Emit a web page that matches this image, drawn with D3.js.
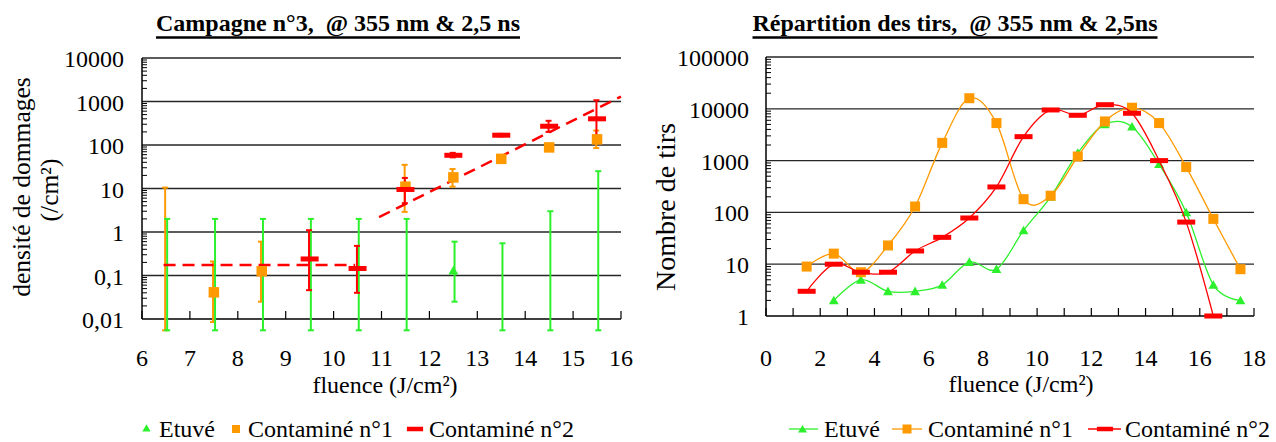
<!DOCTYPE html>
<html><head><meta charset="utf-8">
<script src="https://cdn.jsdelivr.net/npm/d3@7"></script>
<style>
html,body{margin:0;padding:0;background:#fff;}
svg text{font-family:"Liberation Serif","Times New Roman",serif;fill:#000;}
</style></head><body>
<svg id="c" width="1276" height="442"></svg>
<script>
// ---------- LEFT CHART DATA (Campagne n°3) ----------
const titleLeft = "Campagne n°3,  @ 355 nm & 2,5 ns";
const fluenceL = [6.5, 7.5, 8.5, 9.5, 10.5, 11.5, 12.5, 13.5, 14.5, 15.5];
const etuveL    = [null, null, null, null, null, null, 0.13, null, null, null];
const etuveLHi  = [2, 2, 2, 2, 2, 2, 0.6, 0.55, 3, 25];
const etuveLLo  = [0.0055, 0.0055, 0.0055, 0.0055, 0.0055, 0.0055, 0.025, 0.0055, 0.0055, 0.0055];
const cont1L    = [null, 0.041, 0.125, null, null, 11, 18, 48, 88, 135];
const cont1LHi  = [10.5, 0.21, 0.6, null, null, 35, 28, null, null, 215];
const cont1LLo  = [0.0055, 0.0085, 0.025, null, null, 2.9, 11, null, null, 85];
const cont2L    = [null, null, null, 0.24, 0.145, 9.5, 58, 168, 270, 400];
const cont2LHi  = [null, null, null, 1.1, 0.48, 17.5, 66, 180, 360, 1070];
const cont2LLo  = [null, null, null, 0.046, 0.04, 4.6, 52, 158, 200, 150];
const trendFlatX = [6.45, 10.45];
const trendFlatY = [0.175, 0.175];
const trendSlopeX = [10.95, 16];
const trendSlopeY = [2.2, 1300];
const yTicksL = [0.01, 0.1, 1, 10, 100, 1000, 10000];
const yTickLabelsL = ["0,01", "0,1", "1", "10", "100", "1000", "10000"];
const xTicksL = [6, 7, 8, 9, 10, 11, 12, 13, 14, 15, 16];

// ---------- RIGHT CHART DATA (Répartition des tirs) ----------
const titleRight = "Répartition des tirs,  @ 355 nm & 2,5ns";
const fluenceR = [1.5, 2.5, 3.5, 4.5, 5.5, 6.5, 7.5, 8.5, 9.5, 10.5, 11.5, 12.5, 13.5, 14.5, 15.5, 16.5, 17.5];
const etuveR = [null, 2, 5, 3, 3, 4, 11, 8, 45, 200, 1400, 5000, 4500, 850, 100, 4, 2];
const cont1R = [9, 16, 7, 23, 130, 2200, 16000, 5300, 180, 210, 1200, 5700, 10500, 5300, 750, 75, 8];
const cont2R = [3, 10, 7, 7, 18, 33, 78, 310, 2900, 9500, 7500, 12000, 8200, 1000, 65, 1, null];
const yTicksR = [1, 10, 100, 1000, 10000, 100000];
const yTickLabelsR = ["1", "10", "100", "1000", "10000", "100000"];
const xTicksR = [0, 2, 4, 6, 8, 10, 12, 14, 16, 18];

const seriesNames = ["Etuvé", "Contaminé n°1", "Contaminé n°2"];
const xAxisTitle = "fluence (J/cm²)";

const GREEN = "#2cf02c", ORANGE = "#ff9900", RED = "#ff0000";
const FS = 24;

const svg = d3.select("#c");

function title(txt, cx) {
  const t = svg.append("text").attr("x", cx).attr("y", 31)
    .attr("text-anchor", "middle").style("white-space", "pre")
    .attr("font-weight", "bold").attr("font-size", FS).text(txt);
  const b = t.node().getBBox();
  svg.append("line").attr("x1", b.x).attr("x2", b.x + b.width)
    .attr("y1", 37.5).attr("y2", 37.5).attr("stroke", "#000").attr("stroke-width", 2.4);
}

function logFrame(x, y, decades) {
  const [x0, x1] = x.range();
  const [yb, yt] = y.range();
  const g = svg.append("g");
  decades.slice(1).forEach(d => {
    g.append("line").attr("x1", x0).attr("x2", x1).attr("y1", y(d)).attr("y2", y(d))
      .attr("stroke", "#262626").attr("stroke-width", 1.3);
  });
  decades.slice(0, -1).forEach(d => {
    for (let k = 2; k <= 9; k++) {
      g.append("line").attr("x1", x0).attr("x2", x0 + 5).attr("y1", y(k * d)).attr("y2", y(k * d))
        .attr("stroke", "#000").attr("stroke-width", 1);
    }
  });
  g.append("line").attr("x1", x0).attr("x2", x0).attr("y1", yt).attr("y2", yb)
    .attr("stroke", "#000").attr("stroke-width", 1.5);
  g.append("line").attr("x1", x0).attr("x2", x1).attr("y1", yb).attr("y2", yb)
    .attr("stroke", "#000").attr("stroke-width", 1.5);
  return g;
}

function marker(g, type, cx, cy, scale) {
  const s = scale || 1;
  if (type === "tri") {
    g.append("path").attr("d", d3.symbol(d3.symbolTriangle, 42 * s * s)())
      .attr("transform", `translate(${cx},${cy + 1})`).attr("fill", GREEN);
  } else if (type === "sq") {
    g.append("rect").attr("x", cx - 5 * s).attr("y", cy - 5 * s).attr("width", 10 * s).attr("height", 10 * s)
      .attr("fill", ORANGE);
  } else {
    g.append("rect").attr("x", cx - 9 * s).attr("y", cy - 2.5 * s).attr("width", 18 * s).attr("height", 5 * s)
      .attr("fill", RED);
  }
}

// ================= LEFT CHART =================
const xL = d3.scaleLinear([6, 16], [142, 621]);
const yL = d3.scaleLog([0.01, 10000], [319, 58]);
title(titleLeft, 338);
const gL = logFrame(xL, yL, yTicksL);
xTicksL.forEach(v => {
  gL.append("line").attr("x1", xL(v)).attr("x2", xL(v)).attr("y1", 319).attr("y2", 311)
    .attr("stroke", "#000").attr("stroke-width", 1.2);
  gL.append("text").attr("x", xL(v)).attr("y", 366).attr("text-anchor", "middle")
    .attr("font-size", FS).text(v);
});
yTicksL.forEach((v, i) => {
  gL.append("text").attr("x", 124).attr("y", yL(v) + 9).attr("text-anchor", "end")
    .attr("font-size", FS).text(yTickLabelsL[i]);
});
svg.append("text").attr("x", 385).attr("y", 393).attr("text-anchor", "middle")
  .attr("font-size", FS).text(xAxisTitle);
svg.append("text").attr("transform", "translate(30,187) rotate(-90)").attr("text-anchor", "middle")
  .attr("font-size", 25.5).text("densité de dommages");
svg.append("text").attr("transform", "translate(58,190) rotate(-90)").attr("text-anchor", "middle")
  .attr("font-size", 25.5).text("(/cm²)");

function errBars(g, xs, hi, lo, color, dx) {
  xs.forEach((f, i) => {
    if (hi[i] == null) return;
    const cx = xL(f) + dx, y1 = yL(hi[i]), y2 = yL(lo[i]);
    g.append("line").attr("x1", cx).attr("x2", cx).attr("y1", y1).attr("y2", y2)
      .attr("stroke", color).attr("stroke-width", 2);
    [y1, y2].forEach(yy => g.append("line").attr("x1", cx - 3).attr("x2", cx + 3)
      .attr("y1", yy).attr("y2", yy).attr("stroke", color).attr("stroke-width", 2));
  });
}
const gData = svg.append("g");
errBars(gData, fluenceL, cont1LHi, cont1LLo, ORANGE, -0.8);
errBars(gData, fluenceL, etuveLHi, etuveLLo, GREEN, 1.2);
errBars(gData, fluenceL, cont2LHi, cont2LLo, RED, -0.6);
const tl = d3.line().x(d => xL(d[0])).y(d => yL(d[1]));
gData.append("path").attr("d", tl(d3.zip(trendFlatX, trendFlatY)))
  .attr("fill", "none").attr("stroke", RED).attr("stroke-width", 2.5).attr("stroke-dasharray", "12,7");
gData.append("path").attr("d", tl(d3.zip(trendSlopeX, trendSlopeY)))
  .attr("fill", "none").attr("stroke", RED).attr("stroke-width", 2.5).attr("stroke-dasharray", "12,7");
fluenceL.forEach((f, i) => { if (etuveL[i] != null) marker(gData, "tri", xL(f), yL(etuveL[i])); });
fluenceL.forEach((f, i) => { if (cont1L[i] != null) marker(gData, "sq", xL(f), yL(cont1L[i]), 1.05); });
fluenceL.forEach((f, i) => { if (cont2L[i] != null) marker(gData, "dash", xL(f), yL(cont2L[i])); });

const legL = svg.append("g");
marker(legL, "tri", 146.5, 428, 0.85);
legL.append("text").attr("x", 159).attr("y", 437).attr("font-size", FS).text(seriesNames[0]);
marker(legL, "sq", 236, 429, 0.8);
legL.append("text").attr("x", 248).attr("y", 437).attr("font-size", FS).text(seriesNames[1]);
marker(legL, "dash", 415, 429, 0.9);
legL.append("text").attr("x", 429).attr("y", 437).attr("font-size", FS).text(seriesNames[2]);

// ================= RIGHT CHART =================
const xR = d3.scaleLinear([0, 18], [766, 1254]);
const yR = d3.scaleLog([1, 100000], [316, 57]);
title(titleRight, 955);
const gR = logFrame(xR, yR, yTicksR);
d3.range(0, 19).forEach(v => {
  gR.append("line").attr("x1", xR(v)).attr("x2", xR(v)).attr("y1", 316).attr("y2", 308)
    .attr("stroke", "#000").attr("stroke-width", 1.2);
});
xTicksR.forEach(v => {
  gR.append("text").attr("x", xR(v)).attr("y", 366).attr("text-anchor", "middle")
    .attr("font-size", FS).text(v);
});
yTicksR.forEach((v, i) => {
  gR.append("text").attr("x", 749).attr("y", yR(v) + 9).attr("text-anchor", "end")
    .attr("font-size", FS).text(yTickLabelsR[i]);
});
svg.append("text").attr("x", 1021).attr("y", 392).attr("text-anchor", "middle")
  .attr("font-size", FS).text(xAxisTitle);
svg.append("text").attr("transform", "translate(675,207) rotate(-90)").attr("text-anchor", "middle")
  .attr("font-size", 28).text("Nombre de tirs");

const lineR = d3.line().x(d => xR(d[0])).y(d => yR(d[1])).curve(d3.curveCatmullRom.alpha(0));
function seriesR(vals, color, type) {
  const pts = fluenceR.map((f, i) => [f, vals[i]]).filter(p => p[1] != null);
  const g = svg.append("g");
  g.append("path").attr("d", lineR(pts)).attr("fill", "none").attr("stroke", color).attr("stroke-width", 1.3);
  return () => pts.forEach(p => marker(g, type, xR(p[0]), yR(p[1])));
}
const mG = seriesR(etuveR, GREEN, "tri");
const mO = seriesR(cont1R, ORANGE, "sq");
const mR = seriesR(cont2R, RED, "dash");
mG(); mO(); mR();

const legR = svg.append("g");
[[789, 818, 802.5, GREEN, "tri", 824, 0], [892, 922, 907, ORANGE, "sq", 928, 1], [1088, 1121, 1105, RED, "dash", 1125, 2]]
  .forEach(([a, b, c, col, t, tx, k]) => {
    legR.append("line").attr("x1", a).attr("x2", b).attr("y1", 429).attr("y2", 429)
      .attr("stroke", col).attr("stroke-width", 1.3);
    marker(legR, t, c, 429, 0.9);
    legR.append("text").attr("x", tx).attr("y", 437).attr("font-size", FS).text(seriesNames[k]);
  });
</script>
</body></html>
